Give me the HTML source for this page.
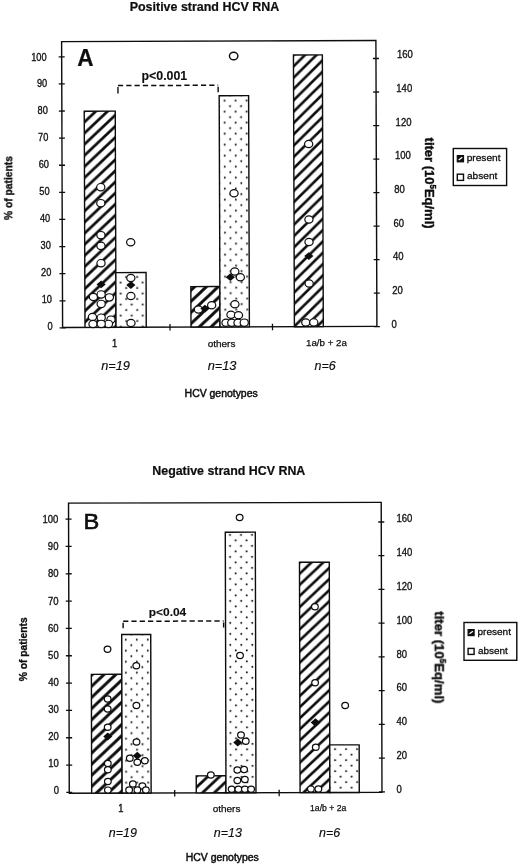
<!DOCTYPE html>
<html lang="en"><head><meta charset="utf-8"><title>HCV RNA strand figure</title>
<style>
html,body{margin:0;padding:0;background:#fff;}
body{width:520px;height:867px;overflow:hidden;}
svg{display:block;font-family:"Liberation Sans", Arial, Helvetica, sans-serif;fill:#0c0c0c;}
</style></head><body>
<svg width="520" height="867" viewBox="0 0 520 867">
<defs>
<filter id="soft" x="0" y="0" width="100%" height="100%" filterUnits="userSpaceOnUse"><feGaussianBlur stdDeviation="0.3"/></filter>
<pattern id="dots" patternUnits="userSpaceOnUse" x="2" y="-0.8" width="11" height="11">
<circle cx="2.8" cy="2.3" r="1.0" fill="#0c0c0c"/>
<circle cx="8.3" cy="7.8" r="1.0" fill="#0c0c0c"/>
</pattern>
</defs>
<rect width="520" height="867" fill="#fff"/>

<g filter="url(#soft)">
<g transform="translate(0 0.25) rotate(-0.2 219.2 183.8)">
<rect x="62.1" y="40.8" width="314.30" height="285.90" fill="none" stroke="#0c0c0c" stroke-width="1.4"/>
<line x1="59.1" y1="327.10" x2="65.1" y2="327.10" stroke="#0c0c0c" stroke-width="1.3"/>
<line x1="59.1" y1="299.99" x2="65.1" y2="299.99" stroke="#0c0c0c" stroke-width="1.3"/>
<line x1="59.1" y1="272.88" x2="65.1" y2="272.88" stroke="#0c0c0c" stroke-width="1.3"/>
<line x1="59.1" y1="245.77" x2="65.1" y2="245.77" stroke="#0c0c0c" stroke-width="1.3"/>
<line x1="59.1" y1="218.66" x2="65.1" y2="218.66" stroke="#0c0c0c" stroke-width="1.3"/>
<line x1="59.1" y1="191.55" x2="65.1" y2="191.55" stroke="#0c0c0c" stroke-width="1.3"/>
<line x1="59.1" y1="164.44" x2="65.1" y2="164.44" stroke="#0c0c0c" stroke-width="1.3"/>
<line x1="59.1" y1="137.33" x2="65.1" y2="137.33" stroke="#0c0c0c" stroke-width="1.3"/>
<line x1="59.1" y1="110.22" x2="65.1" y2="110.22" stroke="#0c0c0c" stroke-width="1.3"/>
<line x1="59.1" y1="83.11" x2="65.1" y2="83.11" stroke="#0c0c0c" stroke-width="1.3"/>
<line x1="59.1" y1="56.00" x2="65.1" y2="56.00" stroke="#0c0c0c" stroke-width="1.3"/>
<line x1="373.4" y1="327.00" x2="379.4" y2="327.00" stroke="#0c0c0c" stroke-width="1.3"/>
<line x1="373.4" y1="293.48" x2="379.4" y2="293.48" stroke="#0c0c0c" stroke-width="1.3"/>
<line x1="373.4" y1="259.95" x2="379.4" y2="259.95" stroke="#0c0c0c" stroke-width="1.3"/>
<line x1="373.4" y1="226.43" x2="379.4" y2="226.43" stroke="#0c0c0c" stroke-width="1.3"/>
<line x1="373.4" y1="192.90" x2="379.4" y2="192.90" stroke="#0c0c0c" stroke-width="1.3"/>
<line x1="373.4" y1="159.38" x2="379.4" y2="159.38" stroke="#0c0c0c" stroke-width="1.3"/>
<line x1="373.4" y1="125.85" x2="379.4" y2="125.85" stroke="#0c0c0c" stroke-width="1.3"/>
<line x1="373.4" y1="92.33" x2="379.4" y2="92.33" stroke="#0c0c0c" stroke-width="1.3"/>
<line x1="373.4" y1="58.80" x2="379.4" y2="58.80" stroke="#0c0c0c" stroke-width="1.3"/>
<line x1="169.5" y1="323.7" x2="169.5" y2="330.2" stroke="#0c0c0c" stroke-width="1.3"/>
<line x1="272" y1="323.7" x2="272" y2="330.2" stroke="#0c0c0c" stroke-width="1.3"/>
<rect x="84.5" y="110.5" width="31.00" height="216.20" fill="#fff"/>
<pattern id="h1" patternUnits="userSpaceOnUse" x="0" y="1.2" width="11.8" height="11.1"><path d="M-11.8,22.2 L23.6,-11.1 M-11.8,11.1 L11.8,-11.1 M0,22.2 L23.6,0" stroke="#0c0c0c" stroke-width="2.7" fill="none"/></pattern>
<rect x="84.5" y="110.5" width="31.00" height="216.20" fill="url(#h1)" stroke="#0c0c0c" stroke-width="1.4"/>
<rect x="115.5" y="272" width="30.25" height="54.70" fill="#fff"/>
<rect x="115.5" y="272" width="30.25" height="54.70" fill="url(#dots)" stroke="#0c0c0c" stroke-width="1.4"/>
<rect x="190.5" y="286.25" width="29.00" height="40.45" fill="#fff"/>
<pattern id="h2" patternUnits="userSpaceOnUse" x="0" y="3.0" width="11.8" height="11.1"><path d="M-11.8,22.2 L23.6,-11.1 M-11.8,11.1 L11.8,-11.1 M0,22.2 L23.6,0" stroke="#0c0c0c" stroke-width="2.9" fill="none"/></pattern>
<rect x="190.5" y="286.25" width="29.00" height="40.45" fill="url(#h2)" stroke="#0c0c0c" stroke-width="1.4"/>
<rect x="219.5" y="95.5" width="29.40" height="231.20" fill="#fff"/>
<rect x="219.5" y="95.5" width="29.40" height="231.20" fill="url(#dots)" stroke="#0c0c0c" stroke-width="1.4"/>
<rect x="293.9" y="55.0" width="28.90" height="271.70" fill="#fff"/>
<pattern id="h3" patternUnits="userSpaceOnUse" x="0" y="4.9" width="11.5" height="11.3"><path d="M-11.5,22.6 L23.0,-11.3 M-11.5,11.3 L11.5,-11.3 M0,22.6 L23.0,0" stroke="#0c0c0c" stroke-width="2.6" fill="none"/></pattern>
<rect x="293.9" y="55.0" width="28.90" height="271.70" fill="url(#h3)" stroke="#0c0c0c" stroke-width="1.4"/>
<ellipse cx="100.75" cy="186.5" rx="4.1" ry="3.65" fill="#fff" stroke="#0c0c0c" stroke-width="1.2"/>
<ellipse cx="100.75" cy="202.5" rx="4.1" ry="3.65" fill="#fff" stroke="#0c0c0c" stroke-width="1.2"/>
<ellipse cx="100.75" cy="234.5" rx="4.1" ry="3.65" fill="#fff" stroke="#0c0c0c" stroke-width="1.2"/>
<ellipse cx="100.75" cy="245.2" rx="4.1" ry="3.65" fill="#fff" stroke="#0c0c0c" stroke-width="1.2"/>
<ellipse cx="100.75" cy="262.5" rx="4.1" ry="3.65" fill="#fff" stroke="#0c0c0c" stroke-width="1.2"/>
<ellipse cx="93" cy="296.25" rx="4.1" ry="3.65" fill="#fff" stroke="#0c0c0c" stroke-width="1.2"/>
<ellipse cx="109" cy="296.75" rx="4.1" ry="3.65" fill="#fff" stroke="#0c0c0c" stroke-width="1.2"/>
<ellipse cx="100.75" cy="293.75" rx="4.1" ry="3.65" fill="#fff" stroke="#0c0c0c" stroke-width="1.2"/>
<ellipse cx="100.75" cy="303.25" rx="4.1" ry="3.65" fill="#fff" stroke="#0c0c0c" stroke-width="1.2"/>
<ellipse cx="92" cy="316.25" rx="4.1" ry="3.65" fill="#fff" stroke="#0c0c0c" stroke-width="1.2"/>
<ellipse cx="110.5" cy="319" rx="4.1" ry="3.65" fill="#fff" stroke="#0c0c0c" stroke-width="1.2"/>
<ellipse cx="100.75" cy="317" rx="4.1" ry="3.65" fill="#fff" stroke="#0c0c0c" stroke-width="1.2"/>
<ellipse cx="92.5" cy="323.25" rx="4.1" ry="3.65" fill="#fff" stroke="#0c0c0c" stroke-width="1.2"/>
<ellipse cx="108" cy="323.25" rx="4.1" ry="3.65" fill="#fff" stroke="#0c0c0c" stroke-width="1.2"/>
<ellipse cx="100.75" cy="323.25" rx="4.1" ry="3.65" fill="#fff" stroke="#0c0c0c" stroke-width="1.2"/>
<ellipse cx="130.5" cy="241.75" rx="4.1" ry="3.65" fill="#fff" stroke="#0c0c0c" stroke-width="1.2"/>
<ellipse cx="130.5" cy="277.5" rx="4.1" ry="3.65" fill="#fff" stroke="#0c0c0c" stroke-width="1.2"/>
<ellipse cx="130.5" cy="295.5" rx="4.1" ry="3.65" fill="#fff" stroke="#0c0c0c" stroke-width="1.2"/>
<ellipse cx="130.5" cy="322.5" rx="4.1" ry="3.65" fill="#fff" stroke="#0c0c0c" stroke-width="1.2"/>
<ellipse cx="198" cy="309.25" rx="4.1" ry="3.65" fill="#fff" stroke="#0c0c0c" stroke-width="1.2"/>
<ellipse cx="211.25" cy="305" rx="4.1" ry="3.65" fill="#fff" stroke="#0c0c0c" stroke-width="1.2"/>
<ellipse cx="234.1" cy="55.8" rx="4.2" ry="3.8" fill="#fff" stroke="#0c0c0c" stroke-width="1.4"/>
<ellipse cx="234" cy="193" rx="4.1" ry="3.65" fill="#fff" stroke="#0c0c0c" stroke-width="1.2"/>
<ellipse cx="234.5" cy="271.25" rx="4.1" ry="3.65" fill="#fff" stroke="#0c0c0c" stroke-width="1.2"/>
<ellipse cx="240" cy="277" rx="4.1" ry="3.65" fill="#fff" stroke="#0c0c0c" stroke-width="1.2"/>
<ellipse cx="234.5" cy="304" rx="4.1" ry="3.65" fill="#fff" stroke="#0c0c0c" stroke-width="1.2"/>
<ellipse cx="230.5" cy="314.5" rx="4.1" ry="3.65" fill="#fff" stroke="#0c0c0c" stroke-width="1.2"/>
<ellipse cx="238" cy="315" rx="4.1" ry="3.65" fill="#fff" stroke="#0c0c0c" stroke-width="1.2"/>
<ellipse cx="225.5" cy="322.5" rx="4.1" ry="3.65" fill="#fff" stroke="#0c0c0c" stroke-width="1.2"/>
<ellipse cx="231.25" cy="322.5" rx="4.1" ry="3.65" fill="#fff" stroke="#0c0c0c" stroke-width="1.2"/>
<ellipse cx="237.5" cy="322.5" rx="4.1" ry="3.65" fill="#fff" stroke="#0c0c0c" stroke-width="1.2"/>
<ellipse cx="243.75" cy="322.5" rx="4.1" ry="3.65" fill="#fff" stroke="#0c0c0c" stroke-width="1.2"/>
<ellipse cx="308.8" cy="144" rx="4.1" ry="3.65" fill="#fff" stroke="#0c0c0c" stroke-width="1.2"/>
<ellipse cx="308.8" cy="219.5" rx="4.1" ry="3.65" fill="#fff" stroke="#0c0c0c" stroke-width="1.2"/>
<ellipse cx="308.8" cy="242.1" rx="4.1" ry="3.65" fill="#fff" stroke="#0c0c0c" stroke-width="1.2"/>
<ellipse cx="308.8" cy="283.6" rx="4.1" ry="3.65" fill="#fff" stroke="#0c0c0c" stroke-width="1.2"/>
<ellipse cx="305.3" cy="322.5" rx="4.1" ry="3.65" fill="#fff" stroke="#0c0c0c" stroke-width="1.2"/>
<ellipse cx="313.3" cy="322.5" rx="4.1" ry="3.65" fill="#fff" stroke="#0c0c0c" stroke-width="1.2"/>
<polygon points="96.15,283.75 100.75,279.85 105.35,283.75 100.75,287.65" fill="#0c0c0c"/>
<polygon points="125.9,284.5 130.5,280.6 135.1,284.5 130.5,288.4" fill="#0c0c0c"/>
<polygon points="199.9,308.25 204.5,304.35 209.1,308.25 204.5,312.15" fill="#0c0c0c"/>
<polygon points="225.4,277 230,273.1 234.6,277 230,280.9" fill="#0c0c0c"/>
<polygon points="304.0,256.1 308.6,252.20000000000002 313.20000000000005,256.1 308.6,260.0" fill="#0c0c0c"/>
<path d="M118.3,85 L218.5,85" fill="none" stroke="#0c0c0c" stroke-width="1.5" stroke-dasharray="5.2,3.1"/>
<path d="M118.3,86.5 L118.3,93 M218.5,86.5 L218.5,92" fill="none" stroke="#0c0c0c" stroke-width="1.4"/>
</g>
<text x="129.70" y="11.40" font-size="12.5" font-weight="bold" font-style="normal" textLength="149.50" lengthAdjust="spacingAndGlyphs" stroke="#0c0c0c" stroke-width="0.2" >Positive strand HCV RNA</text>
<text x="47.45" y="329.60" font-size="10.3" font-weight="normal" font-style="normal" textLength="5.15" lengthAdjust="spacingAndGlyphs" stroke="#0c0c0c" stroke-width="0.3" >0</text>
<text x="41.70" y="302.69" font-size="10.3" font-weight="normal" font-style="normal" textLength="10.30" lengthAdjust="spacingAndGlyphs" stroke="#0c0c0c" stroke-width="0.3" >10</text>
<text x="41.10" y="275.78" font-size="10.3" font-weight="normal" font-style="normal" textLength="10.30" lengthAdjust="spacingAndGlyphs" stroke="#0c0c0c" stroke-width="0.3" >20</text>
<text x="40.50" y="248.87" font-size="10.3" font-weight="normal" font-style="normal" textLength="10.30" lengthAdjust="spacingAndGlyphs" stroke="#0c0c0c" stroke-width="0.3" >30</text>
<text x="39.90" y="221.96" font-size="10.3" font-weight="normal" font-style="normal" textLength="10.30" lengthAdjust="spacingAndGlyphs" stroke="#0c0c0c" stroke-width="0.3" >40</text>
<text x="39.30" y="195.05" font-size="10.3" font-weight="normal" font-style="normal" textLength="10.30" lengthAdjust="spacingAndGlyphs" stroke="#0c0c0c" stroke-width="0.3" >50</text>
<text x="38.70" y="168.14" font-size="10.3" font-weight="normal" font-style="normal" textLength="10.30" lengthAdjust="spacingAndGlyphs" stroke="#0c0c0c" stroke-width="0.3" >60</text>
<text x="38.10" y="141.23" font-size="10.3" font-weight="normal" font-style="normal" textLength="10.30" lengthAdjust="spacingAndGlyphs" stroke="#0c0c0c" stroke-width="0.3" >70</text>
<text x="37.50" y="114.32" font-size="10.3" font-weight="normal" font-style="normal" textLength="10.30" lengthAdjust="spacingAndGlyphs" stroke="#0c0c0c" stroke-width="0.3" >80</text>
<text x="36.90" y="87.41" font-size="10.3" font-weight="normal" font-style="normal" textLength="10.30" lengthAdjust="spacingAndGlyphs" stroke="#0c0c0c" stroke-width="0.3" >90</text>
<text x="31.15" y="60.50" font-size="10.3" font-weight="normal" font-style="normal" textLength="15.45" lengthAdjust="spacingAndGlyphs" stroke="#0c0c0c" stroke-width="0.3" >100</text>
<text x="391.50" y="327.50" font-size="10.3" font-weight="normal" font-style="normal" textLength="5.30" lengthAdjust="spacingAndGlyphs" stroke="#0c0c0c" stroke-width="0.3" >0</text>
<text x="392.19" y="293.86" font-size="10.3" font-weight="normal" font-style="normal" textLength="10.60" lengthAdjust="spacingAndGlyphs" stroke="#0c0c0c" stroke-width="0.3" >20</text>
<text x="392.88" y="260.23" font-size="10.3" font-weight="normal" font-style="normal" textLength="10.60" lengthAdjust="spacingAndGlyphs" stroke="#0c0c0c" stroke-width="0.3" >40</text>
<text x="393.56" y="226.59" font-size="10.3" font-weight="normal" font-style="normal" textLength="10.60" lengthAdjust="spacingAndGlyphs" stroke="#0c0c0c" stroke-width="0.3" >60</text>
<text x="394.25" y="192.95" font-size="10.3" font-weight="normal" font-style="normal" textLength="10.60" lengthAdjust="spacingAndGlyphs" stroke="#0c0c0c" stroke-width="0.3" >80</text>
<text x="394.94" y="159.31" font-size="10.3" font-weight="normal" font-style="normal" textLength="15.90" lengthAdjust="spacingAndGlyphs" stroke="#0c0c0c" stroke-width="0.3" >100</text>
<text x="395.62" y="125.67" font-size="10.3" font-weight="normal" font-style="normal" textLength="15.90" lengthAdjust="spacingAndGlyphs" stroke="#0c0c0c" stroke-width="0.3" >120</text>
<text x="396.31" y="92.04" font-size="10.3" font-weight="normal" font-style="normal" textLength="15.90" lengthAdjust="spacingAndGlyphs" stroke="#0c0c0c" stroke-width="0.3" >140</text>
<text x="397.00" y="58.40" font-size="10.3" font-weight="normal" font-style="normal" textLength="15.90" lengthAdjust="spacingAndGlyphs" stroke="#0c0c0c" stroke-width="0.3" >160</text>
<text x="141.50" y="80.30" font-size="12.5" font-weight="bold" font-style="normal" textLength="45.70" lengthAdjust="spacingAndGlyphs" stroke="#0c0c0c" stroke-width="0.1" >p&lt;0.001</text>
<text x="77.20" y="66.00" font-size="23" font-weight="bold" font-style="normal" textLength="16.30" lengthAdjust="spacingAndGlyphs" stroke="#0c0c0c" stroke-width="0.2" >A</text>
<text x="112.00" y="346.50" font-size="10.6" font-weight="normal" font-style="normal" textLength="5.20" lengthAdjust="spacingAndGlyphs" stroke="#0c0c0c" stroke-width="0.35" >1</text>
<text x="207.70" y="346.50" font-size="9.8" font-weight="normal" font-style="normal" textLength="27.70" lengthAdjust="spacingAndGlyphs" stroke="#0c0c0c" stroke-width="0.25" >others</text>
<text x="306.00" y="346.00" font-size="9.8" font-weight="normal" font-style="normal" textLength="40.90" lengthAdjust="spacingAndGlyphs" stroke="#0c0c0c" stroke-width="0.25" >1a/b + 2a</text>
<text x="101.20" y="370.40" font-size="12.8" font-weight="normal" font-style="italic" textLength="28.80" lengthAdjust="spacingAndGlyphs" stroke="#0c0c0c" stroke-width="0.15" >n=19</text>
<text x="207.70" y="370.40" font-size="12.8" font-weight="normal" font-style="italic" textLength="28.80" lengthAdjust="spacingAndGlyphs" stroke="#0c0c0c" stroke-width="0.15" >n=13</text>
<text x="314.60" y="370.00" font-size="12.8" font-weight="normal" font-style="italic" textLength="21.20" lengthAdjust="spacingAndGlyphs" stroke="#0c0c0c" stroke-width="0.15" >n=6</text>
<text x="184.60" y="396.50" font-size="10" font-weight="normal" font-style="normal" textLength="73.10" lengthAdjust="spacingAndGlyphs" stroke="#0c0c0c" stroke-width="0.45" >HCV genotypes</text>
<text x="0.00" y="0.00" font-size="10.3" font-weight="bold" font-style="normal" textLength="64.00" lengthAdjust="spacingAndGlyphs" stroke="#0c0c0c" stroke-width="0.3" transform="translate(12.2 220) rotate(-90)">% of patients</text>
<text x="0" y="0" font-size="13.6" font-weight="bold" textLength="91" lengthAdjust="spacingAndGlyphs" stroke="#0c0c0c" stroke-width="0.4" transform="translate(424.8 137.6) rotate(90)">titer (10<tspan font-size="8.4" dy="-4.8">5</tspan><tspan dy="4.8">Eq/ml)</tspan></text>
<rect x="453.3" y="148.5" width="53.3" height="37" fill="#fff" stroke="#0c0c0c" stroke-width="1.4"/>
<rect x="457.3" y="155.6" width="6.2" height="6.2" fill="#0c0c0c" stroke="#0c0c0c" stroke-width="1.2"/>
<path d="M458.7,159.99999999999997 L462.3,157.2" stroke="#fff" stroke-width="1.3" fill="none"/>
<rect x="457.3" y="174.2" width="6.2" height="6.2" fill="#fff" stroke="#0c0c0c" stroke-width="1.4"/>
<text x="466.70" y="160.90" font-size="9.9" font-weight="normal" font-style="normal" textLength="33.80" lengthAdjust="spacingAndGlyphs" stroke="#0c0c0c" stroke-width="0.28" >present</text>
<text x="467.00" y="179.40" font-size="9.9" font-weight="normal" font-style="normal" textLength="30.30" lengthAdjust="spacingAndGlyphs" stroke="#0c0c0c" stroke-width="0.28" >absent</text>
<g transform="translate(0 0) rotate(-0.15 225.2 647.8)">
<rect x="68.9" y="502.75" width="312.70" height="290.05" fill="none" stroke="#0c0c0c" stroke-width="1.4"/>
<line x1="65.9" y1="792.00" x2="71.9" y2="792.00" stroke="#0c0c0c" stroke-width="1.3"/>
<line x1="65.9" y1="764.67" x2="71.9" y2="764.67" stroke="#0c0c0c" stroke-width="1.3"/>
<line x1="65.9" y1="737.34" x2="71.9" y2="737.34" stroke="#0c0c0c" stroke-width="1.3"/>
<line x1="65.9" y1="710.01" x2="71.9" y2="710.01" stroke="#0c0c0c" stroke-width="1.3"/>
<line x1="65.9" y1="682.68" x2="71.9" y2="682.68" stroke="#0c0c0c" stroke-width="1.3"/>
<line x1="65.9" y1="655.35" x2="71.9" y2="655.35" stroke="#0c0c0c" stroke-width="1.3"/>
<line x1="65.9" y1="628.02" x2="71.9" y2="628.02" stroke="#0c0c0c" stroke-width="1.3"/>
<line x1="65.9" y1="600.69" x2="71.9" y2="600.69" stroke="#0c0c0c" stroke-width="1.3"/>
<line x1="65.9" y1="573.36" x2="71.9" y2="573.36" stroke="#0c0c0c" stroke-width="1.3"/>
<line x1="65.9" y1="546.03" x2="71.9" y2="546.03" stroke="#0c0c0c" stroke-width="1.3"/>
<line x1="65.9" y1="518.70" x2="71.9" y2="518.70" stroke="#0c0c0c" stroke-width="1.3"/>
<line x1="378.6" y1="792.20" x2="384.6" y2="792.20" stroke="#0c0c0c" stroke-width="1.3"/>
<line x1="378.6" y1="758.48" x2="384.6" y2="758.48" stroke="#0c0c0c" stroke-width="1.3"/>
<line x1="378.6" y1="724.75" x2="384.6" y2="724.75" stroke="#0c0c0c" stroke-width="1.3"/>
<line x1="378.6" y1="691.02" x2="384.6" y2="691.02" stroke="#0c0c0c" stroke-width="1.3"/>
<line x1="378.6" y1="657.30" x2="384.6" y2="657.30" stroke="#0c0c0c" stroke-width="1.3"/>
<line x1="378.6" y1="623.58" x2="384.6" y2="623.58" stroke="#0c0c0c" stroke-width="1.3"/>
<line x1="378.6" y1="589.85" x2="384.6" y2="589.85" stroke="#0c0c0c" stroke-width="1.3"/>
<line x1="378.6" y1="556.12" x2="384.6" y2="556.12" stroke="#0c0c0c" stroke-width="1.3"/>
<line x1="378.6" y1="522.40" x2="384.6" y2="522.40" stroke="#0c0c0c" stroke-width="1.3"/>
<line x1="174.3" y1="789.8" x2="174.3" y2="796.3" stroke="#0c0c0c" stroke-width="1.3"/>
<line x1="278.8" y1="789.8" x2="278.8" y2="796.3" stroke="#0c0c0c" stroke-width="1.3"/>
<rect x="91.3" y="674" width="30.45" height="118.80" fill="#fff"/>
<pattern id="h4" patternUnits="userSpaceOnUse" x="0" y="6.1" width="11.8" height="11.1"><path d="M-11.8,22.2 L23.6,-11.1 M-11.8,11.1 L11.8,-11.1 M0,22.2 L23.6,0" stroke="#0c0c0c" stroke-width="2.9" fill="none"/></pattern>
<rect x="91.3" y="674" width="30.45" height="118.80" fill="url(#h4)" stroke="#0c0c0c" stroke-width="1.4"/>
<rect x="121.75" y="634.25" width="29.00" height="158.55" fill="#fff"/>
<rect x="121.75" y="634.25" width="29.00" height="158.55" fill="url(#dots)" stroke="#0c0c0c" stroke-width="1.4"/>
<rect x="195.9" y="775.75" width="29.70" height="17.05" fill="#fff"/>
<pattern id="h5" patternUnits="userSpaceOnUse" x="0" y="-5.1" width="11.8" height="11.1"><path d="M-11.8,22.2 L23.6,-11.1 M-11.8,11.1 L11.8,-11.1 M0,22.2 L23.6,0" stroke="#0c0c0c" stroke-width="2.8" fill="none"/></pattern>
<rect x="195.9" y="775.75" width="29.70" height="17.05" fill="url(#h5)" stroke="#0c0c0c" stroke-width="1.4"/>
<rect x="225.6" y="532.2" width="30.00" height="260.60" fill="#fff"/>
<rect x="225.6" y="532.2" width="30.00" height="260.60" fill="url(#dots)" stroke="#0c0c0c" stroke-width="1.4"/>
<rect x="299.7" y="562.5" width="29.80" height="230.30" fill="#fff"/>
<pattern id="h6" patternUnits="userSpaceOnUse" x="0" y="1.2" width="11.8" height="11.1"><path d="M-11.8,22.2 L23.6,-11.1 M-11.8,11.1 L11.8,-11.1 M0,22.2 L23.6,0" stroke="#0c0c0c" stroke-width="2.6" fill="none"/></pattern>
<rect x="299.7" y="562.5" width="29.80" height="230.30" fill="url(#h6)" stroke="#0c0c0c" stroke-width="1.4"/>
<rect x="329.5" y="745.2" width="29.40" height="47.60" fill="#fff"/>
<rect x="329.5" y="745.2" width="29.40" height="47.60" fill="url(#dots)" stroke="#0c0c0c" stroke-width="1.4"/>
<ellipse cx="107.5" cy="649" rx="3.35" ry="3.1" fill="#fff" stroke="#0c0c0c" stroke-width="1.2"/>
<ellipse cx="107.5" cy="698.75" rx="3.35" ry="3.1" fill="#fff" stroke="#0c0c0c" stroke-width="1.2"/>
<ellipse cx="107.5" cy="708.75" rx="3.35" ry="3.1" fill="#fff" stroke="#0c0c0c" stroke-width="1.2"/>
<ellipse cx="107.5" cy="727" rx="3.35" ry="3.1" fill="#fff" stroke="#0c0c0c" stroke-width="1.2"/>
<ellipse cx="107.5" cy="763.25" rx="3.35" ry="3.1" fill="#fff" stroke="#0c0c0c" stroke-width="1.2"/>
<ellipse cx="107.5" cy="769.5" rx="3.35" ry="3.1" fill="#fff" stroke="#0c0c0c" stroke-width="1.2"/>
<ellipse cx="107.5" cy="781.25" rx="3.35" ry="3.1" fill="#fff" stroke="#0c0c0c" stroke-width="1.2"/>
<ellipse cx="107.5" cy="789.8" rx="3.35" ry="3.1" fill="#fff" stroke="#0c0c0c" stroke-width="1.2"/>
<ellipse cx="136.25" cy="665.5" rx="3.35" ry="3.1" fill="#fff" stroke="#0c0c0c" stroke-width="1.2"/>
<ellipse cx="136.25" cy="705.3" rx="3.35" ry="3.1" fill="#fff" stroke="#0c0c0c" stroke-width="1.2"/>
<ellipse cx="136.25" cy="741.75" rx="3.35" ry="3.1" fill="#fff" stroke="#0c0c0c" stroke-width="1.2"/>
<ellipse cx="129.5" cy="758" rx="3.35" ry="3.1" fill="#fff" stroke="#0c0c0c" stroke-width="1.2"/>
<ellipse cx="144.5" cy="760.5" rx="3.35" ry="3.1" fill="#fff" stroke="#0c0c0c" stroke-width="1.2"/>
<ellipse cx="137" cy="762" rx="3.35" ry="3.1" fill="#fff" stroke="#0c0c0c" stroke-width="1.2"/>
<ellipse cx="132.5" cy="783.75" rx="3.35" ry="3.1" fill="#fff" stroke="#0c0c0c" stroke-width="1.2"/>
<ellipse cx="142" cy="785.75" rx="3.35" ry="3.1" fill="#fff" stroke="#0c0c0c" stroke-width="1.2"/>
<ellipse cx="128.75" cy="789.8" rx="3.35" ry="3.1" fill="#fff" stroke="#0c0c0c" stroke-width="1.2"/>
<ellipse cx="145.5" cy="789.8" rx="3.35" ry="3.1" fill="#fff" stroke="#0c0c0c" stroke-width="1.2"/>
<ellipse cx="137" cy="789.8" rx="3.35" ry="3.1" fill="#fff" stroke="#0c0c0c" stroke-width="1.2"/>
<ellipse cx="210.5" cy="775" rx="3.35" ry="3.1" fill="#fff" stroke="#0c0c0c" stroke-width="1.2"/>
<ellipse cx="240" cy="517.5" rx="3.35" ry="3.1" fill="#fff" stroke="#0c0c0c" stroke-width="1.2"/>
<ellipse cx="240" cy="655.5" rx="3.35" ry="3.1" fill="#fff" stroke="#0c0c0c" stroke-width="1.2"/>
<ellipse cx="240.75" cy="735" rx="3.35" ry="3.1" fill="#fff" stroke="#0c0c0c" stroke-width="1.2"/>
<ellipse cx="245.5" cy="741.25" rx="3.35" ry="3.1" fill="#fff" stroke="#0c0c0c" stroke-width="1.2"/>
<ellipse cx="237" cy="770" rx="3.35" ry="3.1" fill="#fff" stroke="#0c0c0c" stroke-width="1.2"/>
<ellipse cx="243.75" cy="769.5" rx="3.35" ry="3.1" fill="#fff" stroke="#0c0c0c" stroke-width="1.2"/>
<ellipse cx="237" cy="780.5" rx="3.35" ry="3.1" fill="#fff" stroke="#0c0c0c" stroke-width="1.2"/>
<ellipse cx="244.5" cy="779.5" rx="3.35" ry="3.1" fill="#fff" stroke="#0c0c0c" stroke-width="1.2"/>
<ellipse cx="231.25" cy="789.3" rx="3.35" ry="3.1" fill="#fff" stroke="#0c0c0c" stroke-width="1.2"/>
<ellipse cx="238" cy="789.3" rx="3.35" ry="3.1" fill="#fff" stroke="#0c0c0c" stroke-width="1.2"/>
<ellipse cx="244.5" cy="789.3" rx="3.35" ry="3.1" fill="#fff" stroke="#0c0c0c" stroke-width="1.2"/>
<ellipse cx="250.75" cy="789.3" rx="3.35" ry="3.1" fill="#fff" stroke="#0c0c0c" stroke-width="1.2"/>
<ellipse cx="315" cy="607" rx="3.35" ry="3.1" fill="#fff" stroke="#0c0c0c" stroke-width="1.2"/>
<ellipse cx="315" cy="683" rx="3.35" ry="3.1" fill="#fff" stroke="#0c0c0c" stroke-width="1.2"/>
<ellipse cx="315.5" cy="747.5" rx="3.35" ry="3.1" fill="#fff" stroke="#0c0c0c" stroke-width="1.2"/>
<ellipse cx="310.5" cy="789.3" rx="3.35" ry="3.1" fill="#fff" stroke="#0c0c0c" stroke-width="1.2"/>
<ellipse cx="318" cy="789.3" rx="3.35" ry="3.1" fill="#fff" stroke="#0c0c0c" stroke-width="1.2"/>
<ellipse cx="345" cy="705.75" rx="3.35" ry="3.1" fill="#fff" stroke="#0c0c0c" stroke-width="1.2"/>
<polygon points="103.0,736.25 107.5,732.25 112.0,736.25 107.5,740.25" fill="#0c0c0c"/>
<polygon points="132.5,755.5 137,751.6 141.5,755.5 137,759.4" fill="#0c0c0c"/>
<polygon points="233.0,742.5 237.5,738.5 242.0,742.5 237.5,746.5" fill="#0c0c0c"/>
<polygon points="310.5,722.8 315.3,718.5999999999999 320.1,722.8 315.3,727.0" fill="#0c0c0c"/>
<path d="M123.2,621 L223.7,621" fill="none" stroke="#0c0c0c" stroke-width="1.5" stroke-dasharray="5.2,3.1"/>
<path d="M123.2,622.5 L123.2,628 M223.7,622.5 L223.7,627.5" fill="none" stroke="#0c0c0c" stroke-width="1.4"/>
</g>
<text x="152.30" y="475.10" font-size="12.5" font-weight="bold" font-style="normal" textLength="153.00" lengthAdjust="spacingAndGlyphs" stroke="#0c0c0c" stroke-width="0.2" >Negative strand HCV RNA</text>
<text x="53.70" y="794.30" font-size="10.3" font-weight="normal" font-style="normal" textLength="5.30" lengthAdjust="spacingAndGlyphs" stroke="#0c0c0c" stroke-width="0.3" >0</text>
<text x="48.34" y="767.19" font-size="10.3" font-weight="normal" font-style="normal" textLength="10.60" lengthAdjust="spacingAndGlyphs" stroke="#0c0c0c" stroke-width="0.3" >10</text>
<text x="48.28" y="740.08" font-size="10.3" font-weight="normal" font-style="normal" textLength="10.60" lengthAdjust="spacingAndGlyphs" stroke="#0c0c0c" stroke-width="0.3" >20</text>
<text x="48.22" y="712.97" font-size="10.3" font-weight="normal" font-style="normal" textLength="10.60" lengthAdjust="spacingAndGlyphs" stroke="#0c0c0c" stroke-width="0.3" >30</text>
<text x="48.16" y="685.86" font-size="10.3" font-weight="normal" font-style="normal" textLength="10.60" lengthAdjust="spacingAndGlyphs" stroke="#0c0c0c" stroke-width="0.3" >40</text>
<text x="48.10" y="658.75" font-size="10.3" font-weight="normal" font-style="normal" textLength="10.60" lengthAdjust="spacingAndGlyphs" stroke="#0c0c0c" stroke-width="0.3" >50</text>
<text x="48.04" y="631.64" font-size="10.3" font-weight="normal" font-style="normal" textLength="10.60" lengthAdjust="spacingAndGlyphs" stroke="#0c0c0c" stroke-width="0.3" >60</text>
<text x="47.98" y="604.53" font-size="10.3" font-weight="normal" font-style="normal" textLength="10.60" lengthAdjust="spacingAndGlyphs" stroke="#0c0c0c" stroke-width="0.3" >70</text>
<text x="47.92" y="577.42" font-size="10.3" font-weight="normal" font-style="normal" textLength="10.60" lengthAdjust="spacingAndGlyphs" stroke="#0c0c0c" stroke-width="0.3" >80</text>
<text x="47.86" y="550.31" font-size="10.3" font-weight="normal" font-style="normal" textLength="10.60" lengthAdjust="spacingAndGlyphs" stroke="#0c0c0c" stroke-width="0.3" >90</text>
<text x="42.50" y="523.20" font-size="10.3" font-weight="normal" font-style="normal" textLength="15.90" lengthAdjust="spacingAndGlyphs" stroke="#0c0c0c" stroke-width="0.3" >100</text>
<text x="396.40" y="792.60" font-size="10.3" font-weight="normal" font-style="normal" textLength="5.30" lengthAdjust="spacingAndGlyphs" stroke="#0c0c0c" stroke-width="0.3" >0</text>
<text x="396.40" y="758.83" font-size="10.3" font-weight="normal" font-style="normal" textLength="10.60" lengthAdjust="spacingAndGlyphs" stroke="#0c0c0c" stroke-width="0.3" >20</text>
<text x="396.40" y="725.05" font-size="10.3" font-weight="normal" font-style="normal" textLength="10.60" lengthAdjust="spacingAndGlyphs" stroke="#0c0c0c" stroke-width="0.3" >40</text>
<text x="396.40" y="691.27" font-size="10.3" font-weight="normal" font-style="normal" textLength="10.60" lengthAdjust="spacingAndGlyphs" stroke="#0c0c0c" stroke-width="0.3" >60</text>
<text x="396.40" y="657.50" font-size="10.3" font-weight="normal" font-style="normal" textLength="10.60" lengthAdjust="spacingAndGlyphs" stroke="#0c0c0c" stroke-width="0.3" >80</text>
<text x="396.40" y="623.73" font-size="10.3" font-weight="normal" font-style="normal" textLength="15.90" lengthAdjust="spacingAndGlyphs" stroke="#0c0c0c" stroke-width="0.3" >100</text>
<text x="396.40" y="589.95" font-size="10.3" font-weight="normal" font-style="normal" textLength="15.90" lengthAdjust="spacingAndGlyphs" stroke="#0c0c0c" stroke-width="0.3" >120</text>
<text x="396.40" y="556.17" font-size="10.3" font-weight="normal" font-style="normal" textLength="15.90" lengthAdjust="spacingAndGlyphs" stroke="#0c0c0c" stroke-width="0.3" >140</text>
<text x="396.40" y="522.40" font-size="10.3" font-weight="normal" font-style="normal" textLength="15.90" lengthAdjust="spacingAndGlyphs" stroke="#0c0c0c" stroke-width="0.3" >160</text>
<text x="148.75" y="615.50" font-size="11.5" font-weight="bold" font-style="normal" textLength="37.50" lengthAdjust="spacingAndGlyphs" stroke="#0c0c0c" stroke-width="0.1" >p&lt;0.04</text>
<text x="83.40" y="529.20" font-size="22.6" font-weight="normal" font-style="normal" textLength="15.80" lengthAdjust="spacingAndGlyphs" stroke="#0c0c0c" stroke-width="0.6" >B</text>
<text x="118.30" y="811.60" font-size="10.6" font-weight="normal" font-style="normal" textLength="5.20" lengthAdjust="spacingAndGlyphs" stroke="#0c0c0c" stroke-width="0.35" >1</text>
<text x="212.70" y="811.60" font-size="9.8" font-weight="normal" font-style="normal" textLength="27.70" lengthAdjust="spacingAndGlyphs" stroke="#0c0c0c" stroke-width="0.25" >others</text>
<text x="310.00" y="811.40" font-size="9.8" font-weight="normal" font-style="normal" textLength="36.40" lengthAdjust="spacingAndGlyphs" stroke="#0c0c0c" stroke-width="0.25" >1a/b + 2a</text>
<text x="108.80" y="836.60" font-size="12.8" font-weight="normal" font-style="italic" textLength="28.10" lengthAdjust="spacingAndGlyphs" stroke="#0c0c0c" stroke-width="0.15" >n=19</text>
<text x="213.80" y="836.60" font-size="12.8" font-weight="normal" font-style="italic" textLength="28.10" lengthAdjust="spacingAndGlyphs" stroke="#0c0c0c" stroke-width="0.15" >n=13</text>
<text x="319.00" y="836.60" font-size="12.8" font-weight="normal" font-style="italic" textLength="21.20" lengthAdjust="spacingAndGlyphs" stroke="#0c0c0c" stroke-width="0.15" >n=6</text>
<text x="185.80" y="861.20" font-size="10" font-weight="normal" font-style="normal" textLength="73.00" lengthAdjust="spacingAndGlyphs" stroke="#0c0c0c" stroke-width="0.45" >HCV genotypes</text>
<text x="0.00" y="0.00" font-size="10.3" font-weight="bold" font-style="normal" textLength="64.00" lengthAdjust="spacingAndGlyphs" stroke="#0c0c0c" stroke-width="0.3" transform="translate(27 681.3) rotate(-90)">% of patients</text>
<text x="0" y="0" font-size="13.2" font-weight="bold" textLength="92.2" lengthAdjust="spacingAndGlyphs" stroke="#0c0c0c" stroke-width="0.4" transform="translate(434.8 611.3) rotate(90)">titer (10<tspan font-size="8.2" dy="-4.8">5</tspan><tspan dy="4.8">Eq/ml)</tspan></text>
<rect x="464" y="622.5" width="52.8" height="37.8" fill="#fff" stroke="#0c0c0c" stroke-width="1.4"/>
<rect x="468.1" y="629.6" width="6.0" height="6.0" fill="#0c0c0c" stroke="#0c0c0c" stroke-width="1.2"/>
<path d="M469.5,633.8000000000001 L472.90000000000003,631.2" stroke="#fff" stroke-width="1.3" fill="none"/>
<rect x="468.1" y="648.4" width="6.0" height="6.0" fill="#fff" stroke="#0c0c0c" stroke-width="1.4"/>
<text x="477.50" y="635.20" font-size="9.9" font-weight="normal" font-style="normal" textLength="33.50" lengthAdjust="spacingAndGlyphs" stroke="#0c0c0c" stroke-width="0.28" >present</text>
<text x="477.90" y="653.70" font-size="9.9" font-weight="normal" font-style="normal" textLength="30.00" lengthAdjust="spacingAndGlyphs" stroke="#0c0c0c" stroke-width="0.28" >absent</text>
</g>
</svg>
</body></html>
